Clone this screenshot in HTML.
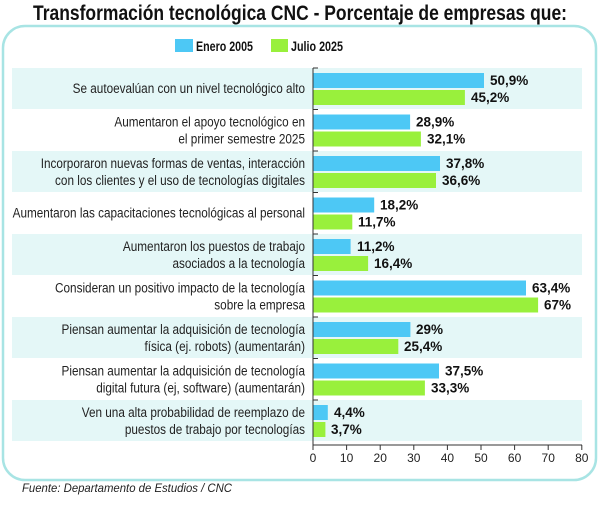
<!DOCTYPE html>
<html><head><meta charset="utf-8"><style>
html,body{margin:0;padding:0;background:#fff;}
svg{display:block;font-family:"Liberation Sans",sans-serif;}
</style></head><body>
<svg width="600" height="510" viewBox="0 0 600 510">
<text x="300" y="20" text-anchor="middle" font-size="21" font-weight="bold" fill="#111" textLength="534" lengthAdjust="spacingAndGlyphs">Transformación tecnológica CNC - Porcentaje de empresas que:</text>
<rect x="3" y="26" width="593" height="454" rx="22" fill="#fff" stroke="#a8e4e4" stroke-width="2.5"/>
<rect x="175" y="39" width="18" height="13" fill="#4dc8f5"/>
<text x="196" y="51" font-size="14" font-weight="bold" fill="#111" textLength="57" lengthAdjust="spacingAndGlyphs">Enero 2005</text>
<rect x="271" y="39" width="17" height="13" fill="#99f03c"/>
<text x="291" y="51" font-size="14" font-weight="bold" fill="#111" textLength="52" lengthAdjust="spacingAndGlyphs">Julio 2025</text>
<g fill="#e4f7f7">
<rect x="12" y="68" width="570" height="41"/>
<rect x="12" y="151" width="570" height="41"/>
<rect x="12" y="234" width="570" height="41"/>
<rect x="12" y="317" width="570" height="41"/>
<rect x="12" y="400" width="570" height="41"/>
</g>
<g fill="#4dc8f5">
<rect x="313" y="73" width="171" height="15"/>
<rect x="313" y="114.5" width="97.1" height="15"/>
<rect x="313" y="156" width="127" height="15"/>
<rect x="313" y="197.5" width="61.2" height="15"/>
<rect x="313" y="239" width="37.6" height="15"/>
<rect x="313" y="280.5" width="213" height="15"/>
<rect x="313" y="322" width="97.4" height="15"/>
<rect x="313" y="363.5" width="126" height="15"/>
<rect x="313" y="405" width="14.8" height="15"/>
</g>
<g fill="#99f03c">
<rect x="313" y="90" width="151.9" height="15"/>
<rect x="313" y="131.5" width="107.9" height="15"/>
<rect x="313" y="173" width="123" height="15"/>
<rect x="313" y="214.5" width="39.3" height="15"/>
<rect x="313" y="256" width="55.1" height="15"/>
<rect x="313" y="297.5" width="225.1" height="15"/>
<rect x="313" y="339" width="85.3" height="15"/>
<rect x="313" y="380.5" width="111.9" height="15"/>
<rect x="313" y="422" width="12.4" height="15"/>
</g>
<g font-size="13.5" font-weight="bold" fill="#111">
<text x="490" y="85">50,9%</text><text x="471" y="102">45,2%</text>
<text x="416" y="126.5">28,9%</text><text x="427" y="143.5">32,1%</text>
<text x="446" y="168">37,8%</text><text x="442" y="185">36,6%</text>
<text x="380" y="209.5">18,2%</text><text x="358" y="226.5">11,7%</text>
<text x="357" y="251">11,2%</text><text x="374" y="268">16,4%</text>
<text x="532" y="292.5">63,4%</text><text x="544" y="309.5">67%</text>
<text x="416" y="334">29%</text><text x="404" y="351">25,4%</text>
<text x="445" y="375.5">37,5%</text><text x="431" y="392.5">33,3%</text>
<text x="334" y="417">4,4%</text><text x="331" y="434">3,7%</text>
</g>
<g transform="translate(305,0) scale(0.84,1)" font-size="14" fill="#222" text-anchor="end">
<text x="0" y="93">Se autoevalúan con un nivel tecnológico alto</text>
<text x="0" y="126.5">Aumentaron el apoyo tecnológico en</text><text x="0" y="143.5">el primer semestre 2025</text>
<text x="0" y="168">Incorporaron nuevas formas de ventas, interacción</text><text x="0" y="185">con los clientes y el uso de tecnologías digitales</text>
<text x="0" y="217.5">Aumentaron las capacitaciones tecnológicas al personal</text>
<text x="0" y="251">Aumentaron los puestos de trabajo</text><text x="0" y="268">asociados a la tecnología</text>
<text x="0" y="292.5">Consideran un positivo impacto de la tecnología</text><text x="0" y="309.5">sobre la empresa</text>
<text x="0" y="334">Piensan aumentar la adquisición de tecnología</text><text x="0" y="351">física (ej. robots) (aumentarán)</text>
<text x="0" y="375.5">Piensan aumentar la adquisición de tecnología</text><text x="0" y="392.5">digital futura (ej, software) (aumentarán)</text>
<text x="0" y="417">Ven una alta probabilidad de reemplazo de</text><text x="0" y="434">puestos de trabajo por tecnologías</text>
</g>
<g stroke="#333" stroke-width="1">
<line x1="313" y1="68" x2="318" y2="68"/><line x1="313" y1="109.5" x2="318" y2="109.5"/><line x1="313" y1="151" x2="318" y2="151"/><line x1="313" y1="192.5" x2="318" y2="192.5"/><line x1="313" y1="234" x2="318" y2="234"/><line x1="313" y1="275.5" x2="318" y2="275.5"/><line x1="313" y1="317" x2="318" y2="317"/><line x1="313" y1="358.5" x2="318" y2="358.5"/><line x1="313" y1="400" x2="318" y2="400"/>
</g>
<line x1="313" y1="68" x2="313" y2="445" stroke="#333" stroke-width="1"/>
<line x1="313" y1="445" x2="582" y2="445" stroke="#333" stroke-width="1"/>
<g stroke="#333" stroke-width="1">
<line x1="313" y1="445" x2="313" y2="450"/><line x1="346.6" y1="445" x2="346.6" y2="450"/><line x1="380.2" y1="445" x2="380.2" y2="450"/><line x1="413.8" y1="445" x2="413.8" y2="450"/><line x1="447.4" y1="445" x2="447.4" y2="450"/><line x1="481" y1="445" x2="481" y2="450"/><line x1="514.6" y1="445" x2="514.6" y2="450"/><line x1="548.2" y1="445" x2="548.2" y2="450"/><line x1="581.8" y1="445" x2="581.8" y2="450"/>
</g>
<g font-size="12" fill="#222" text-anchor="middle">
<text x="313" y="462">0</text><text x="346.6" y="462">10</text><text x="380.2" y="462">20</text><text x="413.8" y="462">30</text><text x="447.4" y="462">40</text><text x="481" y="462">50</text><text x="514.6" y="462">60</text><text x="548.2" y="462">70</text><text x="581.8" y="462">80</text>
</g>
<text x="22" y="492" font-size="12" font-style="italic" fill="#222" textLength="210" lengthAdjust="spacingAndGlyphs">Fuente: Departamento de Estudios / CNC</text>
</svg>
</body></html>
